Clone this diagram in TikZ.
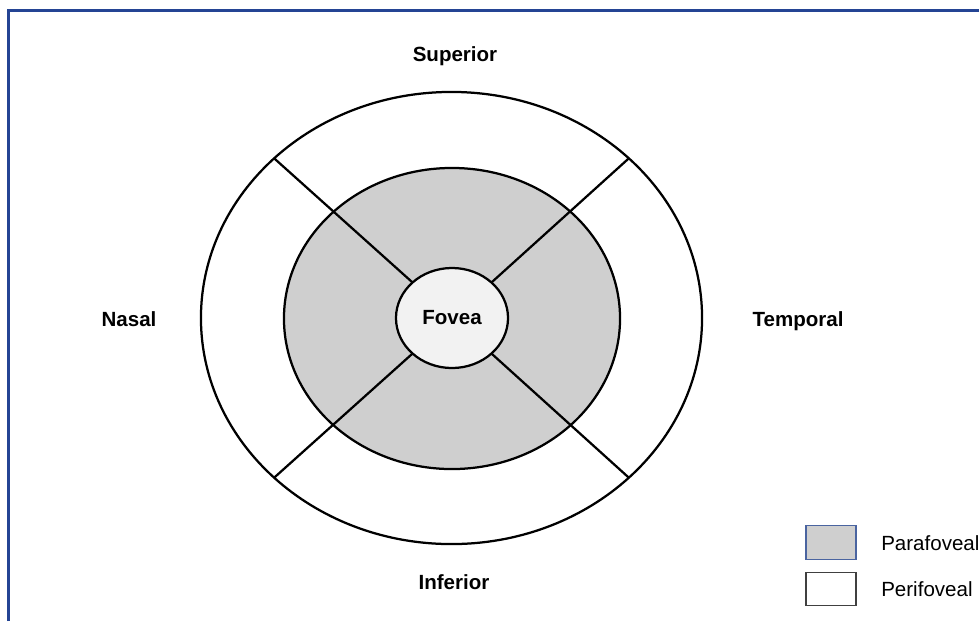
\documentclass[tikz,border=0pt]{standalone}
\usepackage{fontspec}
\setmainfont{Liberation Sans}
\usetikzlibrary{shapes.geometric}
\definecolor{framebl}{RGB}{36,68,148}
\definecolor{paragray}{RGB}{207,207,207}
\definecolor{foveagray}{RGB}{242,242,242}
\definecolor{legendbl}{RGB}{74,100,160}
\tikzset{
  zone/.style={ellipse, draw=black, line width=1.6pt, inner sep=0pt, outer sep=0pt},
  sidelabel/.style={font=\fontsize{14.6}{17}\selectfont\bfseries, inner sep=0pt},
  legendbox/.style={draw, line width=0.8pt, minimum width=1.25cm, minimum height=0.83cm, inner sep=0pt},
  legendtext/.style={font=\fontsize{14.6}{17}\selectfont, anchor=west, inner sep=0pt}
}
\begin{document}
\begin{tikzpicture}[x=0.025cm, y=-0.025cm]
\useasboundingbox[fill=white] (0,0) rectangle (979,621);
% frame (only top and left edges show)
\draw[framebl, line width=1.6pt] (8.5,621) -- (8.5,10.5) -- (979,10.5);
% rings
\node[zone, fill=white, minimum width=12.525cm, minimum height=11.3cm] (outer) at (451.5,318) {};
\node[zone, fill=paragray, minimum width=8.4cm, minimum height=7.525cm] (middle) at (452,318.5) {};
\node[zone, fill=foveagray, minimum width=2.8cm, minimum height=2.5cm, font=\fontsize{14.6}{17}\selectfont\bfseries] (fovea) at (452,318) {Fovea};
\foreach \a in {42,138,222,318}
  \draw[line width=1.6pt] (outer.\a) -- (fovea.\a);
% quadrant names
\node[sidelabel] (superior) at (455,56) {Superior};
\node[sidelabel] (inferior) at (454,582) {Inferior};
\node[sidelabel] (nasal) at (129,319) {Nasal};
\node[sidelabel] (temporal) at (798,321) {Temporal};
% legend
\node[legendbox, draw=legendbl, fill=paragray] (parabox) at (831,542.5) {};
\node[legendbox, draw=black!75, fill=white] (peribox) at (831,589) {};
\node[legendtext] (paratext) at (881,543) {Parafoveal};
\node[legendtext] (peritext) at (881,589) {Perifoveal};
\end{tikzpicture}
\end{document}
